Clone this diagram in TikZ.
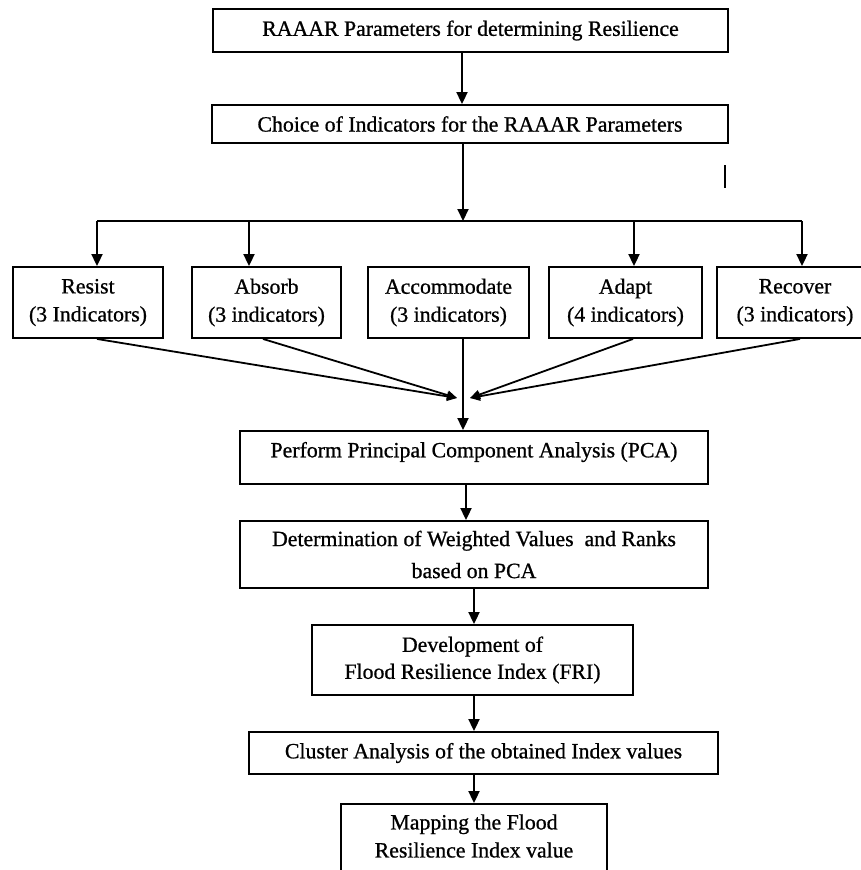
\documentclass[tikz,border=0pt]{standalone}
\usepackage{fontspec}
\setmainfont{Liberation Serif}[FakeBold=0.8]
\newfontfamily\heavy{Liberation Serif}[FakeBold=0.8]
\usetikzlibrary{arrows.meta}
\begin{document}
\begin{tikzpicture}[x=1pt,y=-1pt,
  box/.style={draw, line width=1.9pt, inner sep=0pt, align=center, font=\heavy\fontsize{21.8}{28}\selectfont},
  txt/.style={inner sep=0pt, align=center, font=\heavy\fontsize{21.8}{28}\selectfont},
  arr/.style={line width=2pt, -{Triangle[width=11pt,length=12pt]}},
  sarr/.style={line width=1.8pt, -{Triangle[width=9pt,length=10pt]}},
  ln/.style={line width=2pt}]
\useasboundingbox (0,0) rectangle (861,870);
% top boxes
\node[box, minimum width=515pt, minimum height=43pt] (top) at (470.5,30.5) {RAAAR Parameters for determining Resilience};
\node[box, minimum width=516pt, minimum height=38pt] (choice) at (470,124) {Choice of Indicators for the RAAAR Parameters};
% five boxes
\node[box, minimum width=150pt, minimum height=71pt] (resist) at (88,302.5) {Resist\\(3 Indicators)};
\node[box, minimum width=149pt, minimum height=71pt] (absorb) at (266.5,302.5) {Absorb\\(3 indicators)};
\node[box, minimum width=161pt, minimum height=71pt] (accom) at (448.5,302.5) {Accommodate\\(3 indicators)};
\node[box, minimum width=153pt, minimum height=71pt] (adapt) at (625.5,302.5) {Adapt\\(4 indicators)};
\node[box, minimum width=156pt, minimum height=71pt] (recover) at (795,302.5) {Recover\\(3 indicators)};
% lower boxes
\node[box, minimum width=468pt, minimum height=53pt] (pca) at (474,457.5) {};
\node[txt] (pcatext) at (474,452) {Perform Principal Component Analysis (PCA)};
\node[box, minimum width=468pt, minimum height=67pt, font=\heavy\fontsize{21.8}{32}\selectfont] (det) at (474,554.5) {Determination of Weighted Values\ \ and Ranks\\based on PCA};
\node[box, minimum width=321pt, minimum height=70pt, font=\heavy\fontsize{21.8}{27}\selectfont] (fri) at (472.5,660) {Development of\\Flood Resilience Index (FRI)};
\node[box, minimum width=469pt, minimum height=42pt] (cluster) at (483.5,753) {Cluster Analysis of the obtained Index values};
\node[box, minimum width=266pt, minimum height=90pt] (map) at (474,849) {};
\node[txt] (maptext) at (474,836) {Mapping the Flood\\Resilience Index value};
% coordinates
\coordinate (sp) at (462,0);
\coordinate (bA) at (97,221);
\coordinate (bB) at (249,221);
\coordinate (bC) at (463,221);
\coordinate (bD) at (634,221);
\coordinate (bE) at (802,221);
\coordinate (oA) at (97,0);
\coordinate (oB) at (263,0);
\coordinate (oD) at (633,0);
\coordinate (oE) at (800,0);
\coordinate (cl) at (457,398);
\coordinate (cr) at (470,398);
\coordinate (x1) at (466,0);
\coordinate (x2) at (474,0);
% connectors
\draw[arr] (top.south -| sp) -- (choice.north -| sp);
\draw[arr] (choice.south -| bC) -- (bC);
\draw[ln] (bA) -- (bE);
\draw[arr] (bA) -- (resist.north -| bA);
\draw[arr] (bB) -- (absorb.north -| bB);
\draw[arr] (bD) -- (adapt.north -| bD);
\draw[arr] (bE) -- (recover.north -| bE);
\draw[sarr] (resist.south -| oA) -- (cl);
\draw[sarr] (absorb.south -| oB) -- (cl);
\draw[sarr] (adapt.south -| oD) -- (cr);
\draw[sarr] (recover.south -| oE) -- (cr);
\draw[arr] (accom.south -| bC) -- (pca.north -| bC);
\draw[arr] (pca.south -| x1) -- (det.north -| x1);
\draw[arr] (det.south -| x2) -- (fri.north -| x2);
\draw[arr] (fri.south -| x2) -- (cluster.north -| x2);
\draw[arr] (cluster.south -| x2) -- (map.north -| x2);
% stray mark
\draw[line width=1.8pt] (725,165) -- (725,188);
\end{tikzpicture}
\end{document}
